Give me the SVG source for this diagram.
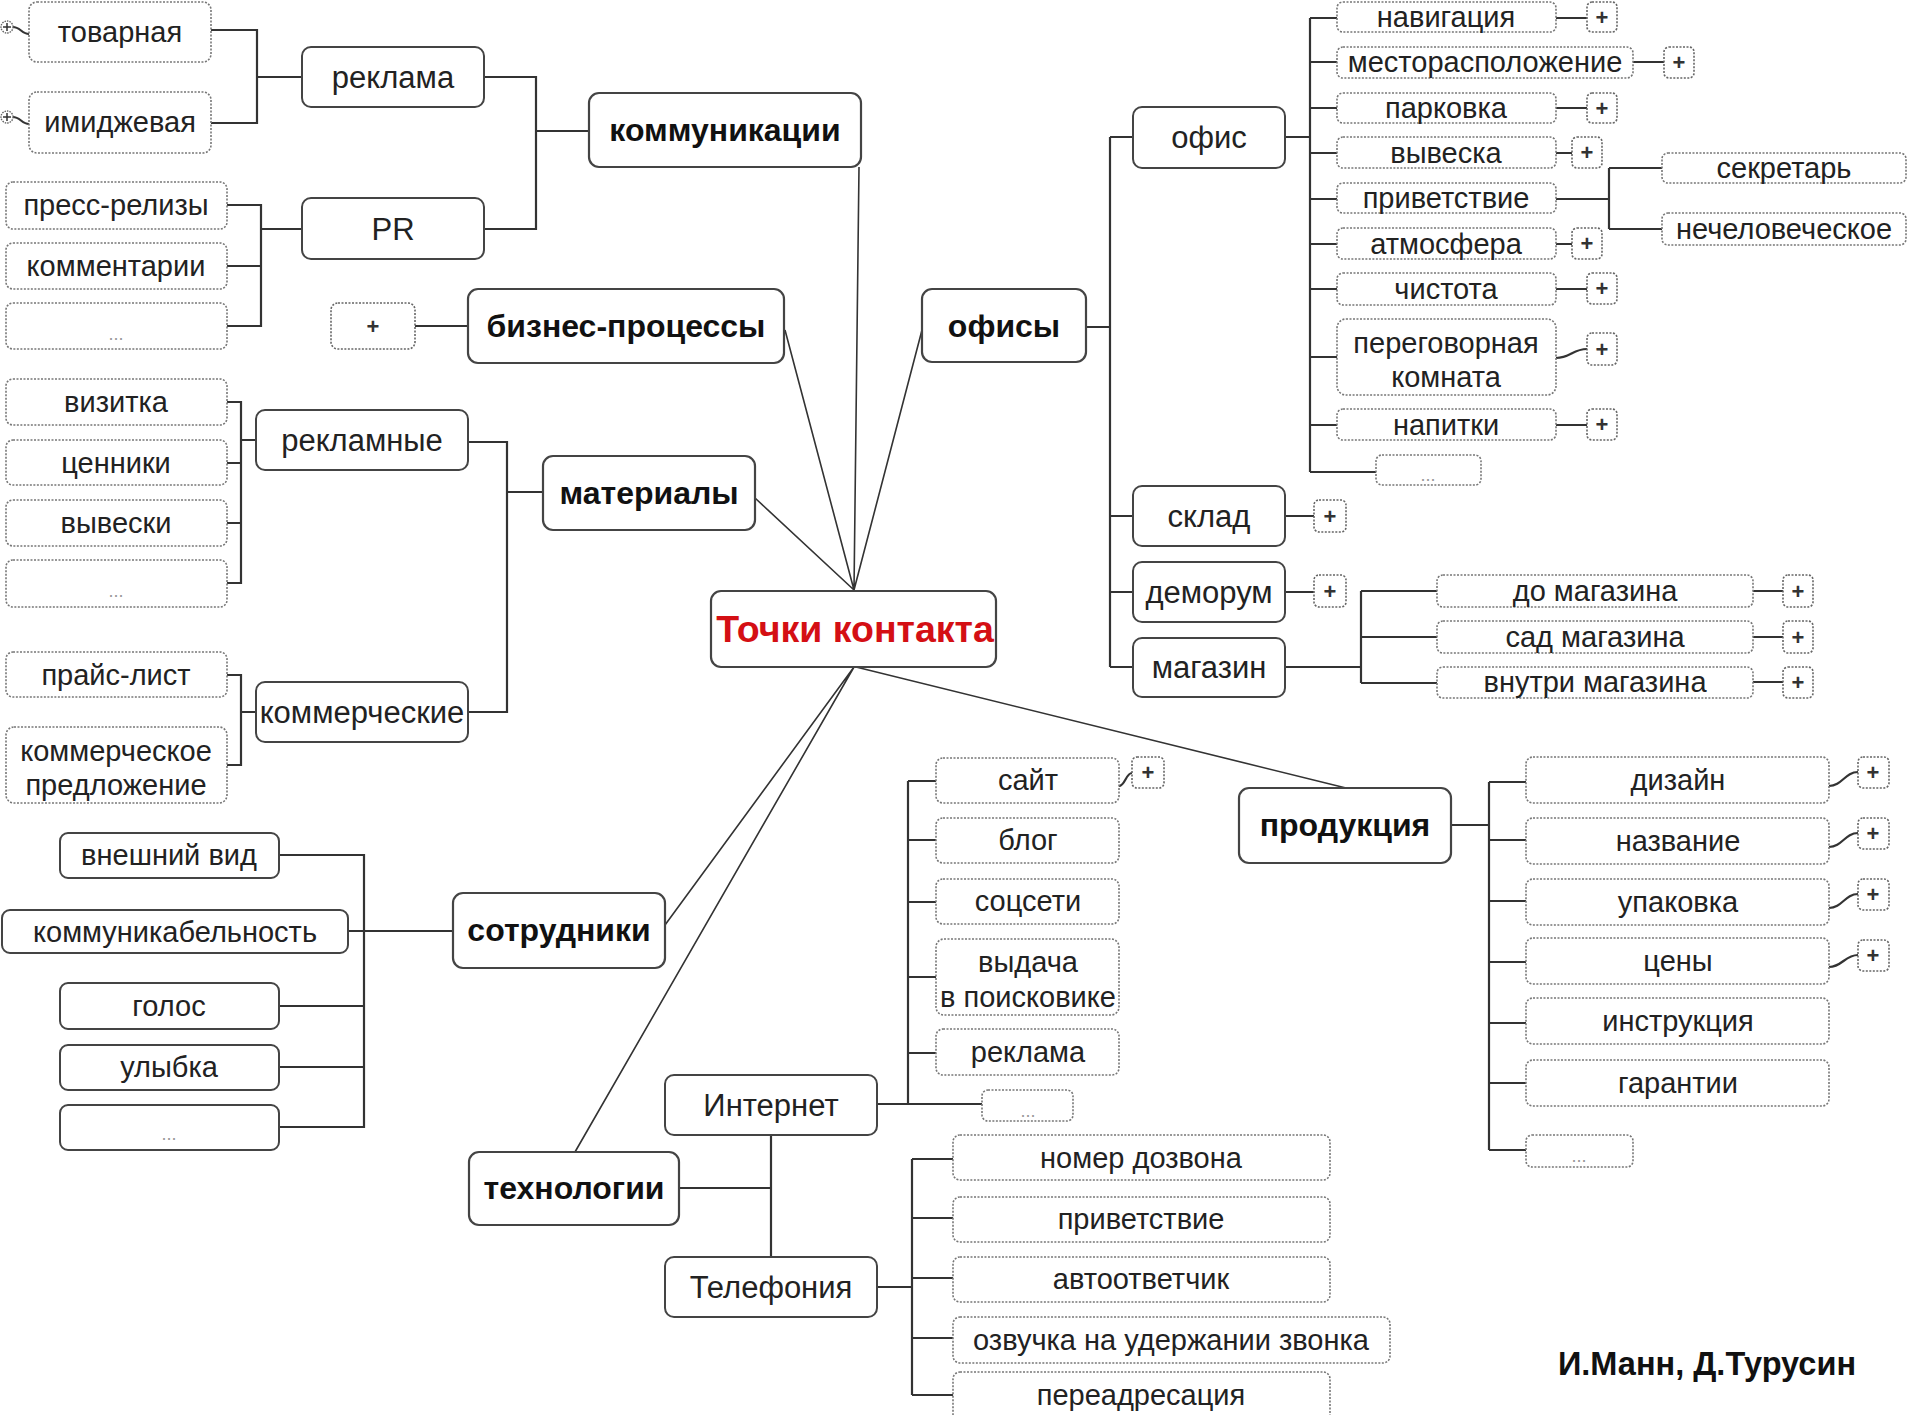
<svg xmlns="http://www.w3.org/2000/svg" width="1907" height="1415" viewBox="0 0 1907 1415">
<style>
text{font-family:"Liberation Sans",Arial,sans-serif;fill:#222;text-anchor:middle}
.m rect{fill:#fff;stroke:#444;stroke-width:2.2}
.m text{font-size:32px;font-weight:bold;fill:#111}
.s rect{fill:#fff;stroke:#444;stroke-width:2}
.s text{font-size:31px}
.k text{font-size:29px}
.l rect{fill:#fff;stroke:#777;stroke-width:1.6;stroke-dasharray:2 1.5}
.l text{font-size:29px}
.p rect{fill:#fff;stroke:#666;stroke-width:1.6;stroke-dasharray:2 1.5}
.p text{font-size:22px;font-weight:bold;fill:#333}
text.d{font-size:18px;fill:#999}
.c rect{fill:#fff;stroke:#444;stroke-width:2.2}
.c text{font-size:37.5px;font-weight:bold;fill:#d40f14}
#connectors path{fill:none;stroke:#333;stroke-width:2.2}
#connectors .r{stroke-width:1.6}
</style>
<rect width="1907" height="1415" fill="#fff"/>
<g id="connectors">
<path class="r" d="M859 167L854 590M785 330L854 590M922 330L854 590M755 498L854 590M665 925L854 667M575 1152L854 667M856 667L1346 788"/>
<path d="M13 27C20 27 22 34 29 34M13 117C20 117 22 124 29 124"/>
<path d="M211 30H257V123H211M257 77H302"/>
<path d="M484 77H536V229H484M536 131H589"/>
<path d="M227 205H261V326H227M227 266H261M261 229H302"/>
<path d="M415 326H468"/>
<path d="M227 402H241V583H227M227 463H241M227 523H241M241 440H256"/>
<path d="M468 442H507V712H468M507 492H543"/>
<path d="M227 675H241V765H227M241 712H256"/>
<path d="M279 855H364V1127H279M348 931H453M279 1006H364M279 1067H364"/>
<path d="M679 1188H771M771 1135V1257"/>
<path d="M877 1104H982M908 781V1104M908 781H936M908 840H936M908 902H936M908 977H936M908 1053H936"/>
<path d="M1119 786C1125 786 1126 773 1132 773"/>
<path d="M877 1287H912M912 1159V1395M912 1159H953M912 1218H953M912 1278H953M912 1338H953M912 1395H953"/>
<path d="M1086 327H1110M1110 137V667M1110 137H1133M1110 516H1133M1110 592H1133M1110 667H1133"/>
<path d="M1285 137H1310M1310 18V472M1310 18H1337M1310 62H1337M1310 108H1337M1310 153H1337M1310 199H1337M1310 244H1337M1310 289H1337M1310 357H1337M1310 425H1337M1310 472H1376"/>
<path d="M1556 18H1587M1633 62H1664M1556 108H1587M1556 153H1572M1556 244H1572M1556 289H1587M1556 358C1570 358 1573 349 1587 349M1556 425H1587"/>
<path d="M1556 199H1609M1609 168V229M1609 168H1662M1609 229H1662"/>
<path d="M1285 516H1314M1285 592H1314"/>
<path d="M1285 667H1361M1361 591V683M1361 591H1437M1361 637H1437M1361 683H1437"/>
<path d="M1753 591H1783M1753 637H1783M1753 682H1783"/>
<path d="M1451 825H1489M1489 782V1150M1489 782H1526M1489 840H1526M1489 901H1526M1489 962H1526M1489 1023H1526M1489 1083H1526M1489 1150H1526"/>
<path d="M1829 786C1842 786 1845 772 1858 772M1829 847C1842 847 1845 833 1858 833M1829 908C1842 908 1845 894 1858 894M1829 967C1842 967 1845 955 1858 955"/>
</g>

<g id="exp-1" class="p"><circle cx="7" cy="27" r="6" fill="#fff" stroke="#666" stroke-width="1.4" stroke-dasharray="1.5 1"/><path d="M3 27H11M7 23V31" stroke="#333" stroke-width="1.5"/></g>
<g id="exp-2" class="p"><circle cx="7" cy="117" r="6" fill="#fff" stroke="#666" stroke-width="1.4" stroke-dasharray="1.5 1"/><path d="M3 117H11M7 113V121" stroke="#333" stroke-width="1.5"/></g>

<g id="center" class="c"><rect x="711" y="591" width="285" height="76" rx="10"/><text x="855" y="642">Точки контакта</text></g>

<g id="kommunikacii" class="m"><rect x="589" y="93" width="272" height="74" rx="10"/><text x="725" y="141">коммуникации</text></g>
<g id="biznes" class="m"><rect x="468" y="289" width="316" height="74" rx="10"/><text x="626" y="337">бизнес-процессы</text></g>
<g id="ofisy" class="m"><rect x="922" y="289" width="164" height="73" rx="10"/><text x="1004" y="337">офисы</text></g>
<g id="materialy" class="m"><rect x="543" y="456" width="212" height="74" rx="10"/><text x="649" y="504">материалы</text></g>
<g id="sotrudniki" class="m"><rect x="453" y="893" width="212" height="75" rx="10"/><text x="559" y="941">сотрудники</text></g>
<g id="tehnologii" class="m"><rect x="469" y="1152" width="210" height="73" rx="10"/><text x="574" y="1199">технологии</text></g>
<g id="produkcia" class="m"><rect x="1239" y="788" width="212" height="75" rx="10"/><text x="1345" y="836">продукция</text></g>

<g id="reklama" class="s"><rect x="302" y="47" width="182" height="60" rx="9"/><text x="393" y="88">реклама</text></g>
<g id="pr" class="s"><rect x="302" y="198" width="182" height="61" rx="9"/><text x="393" y="240">PR</text></g>
<g id="reklamnye" class="s"><rect x="256" y="410" width="212" height="60" rx="9"/><text x="362" y="451">рекламные</text></g>
<g id="kommercheskie" class="s"><rect x="256" y="682" width="212" height="60" rx="9"/><text x="362" y="723">коммерческие</text></g>
<g id="ofis" class="s"><rect x="1133" y="107" width="152" height="61" rx="9"/><text x="1209" y="148">офис</text></g>
<g id="sklad" class="s"><rect x="1133" y="486" width="152" height="60" rx="9"/><text x="1209" y="527">склад</text></g>
<g id="demorum" class="s"><rect x="1133" y="562" width="152" height="60" rx="9"/><text x="1209" y="603">деморум</text></g>
<g id="magazin" class="s"><rect x="1133" y="638" width="152" height="59" rx="9"/><text x="1209" y="678">магазин</text></g>
<g id="internet" class="s"><rect x="665" y="1075" width="212" height="60" rx="9"/><text x="771" y="1116">Интернет</text></g>
<g id="telefonia" class="s"><rect x="665" y="1257" width="212" height="60" rx="9"/><text x="771" y="1298">Телефония</text></g>

<g id="vneshniy" class="s k"><rect x="60" y="833" width="219" height="45" rx="8"/><text x="169" y="865">внешний вид</text></g>
<g id="kommunikabelnost" class="s k"><rect x="2" y="910" width="346" height="43" rx="8"/><text x="175" y="942">коммуникабельность</text></g>
<g id="golos" class="s k"><rect x="60" y="983" width="219" height="46" rx="8"/><text x="169" y="1016">голос</text></g>
<g id="ulybka" class="s k"><rect x="60" y="1045" width="219" height="45" rx="8"/><text x="169" y="1077">улыбка</text></g>
<g id="sotr-etc" class="s k"><rect x="60" y="1105" width="219" height="45" rx="8"/><text class="d" x="169" y="1140">...</text></g>

<g id="tovarnaya" class="l"><rect x="29" y="2" width="182" height="60" rx="8"/><text x="120" y="42">товарная</text></g>
<g id="imidzhevaya" class="l"><rect x="29" y="92" width="182" height="61" rx="8"/><text x="120" y="132">имиджевая</text></g>
<g id="press" class="l"><rect x="6" y="182" width="221" height="47" rx="7"/><text x="116" y="215">пресс-релизы</text></g>
<g id="kommentarii" class="l"><rect x="6" y="243" width="221" height="46" rx="7"/><text x="116" y="276">комментарии</text></g>
<g id="pr-etc" class="l"><rect x="6" y="303" width="221" height="46" rx="7"/><text class="d" x="116" y="340">...</text></g>
<g id="biznes-plus" class="p"><rect x="331" y="303" width="84" height="46" rx="7"/><text x="373" y="334">+</text></g>
<g id="vizitka" class="l"><rect x="6" y="379" width="221" height="46" rx="7"/><text x="116" y="412">визитка</text></g>
<g id="cenniki" class="l"><rect x="6" y="440" width="221" height="45" rx="7"/><text x="116" y="473">ценники</text></g>
<g id="vyveski" class="l"><rect x="6" y="500" width="221" height="46" rx="7"/><text x="116" y="533">вывески</text></g>
<g id="rekl-etc" class="l"><rect x="6" y="560" width="221" height="47" rx="7"/><text class="d" x="116" y="597">...</text></g>
<g id="prays" class="l"><rect x="6" y="652" width="221" height="45" rx="7"/><text x="116" y="685">прайс-лист</text></g>
<g id="kompredl" class="l"><rect x="6" y="727" width="221" height="76" rx="8"/><text x="116" y="761">коммерческое</text><text x="116" y="795">предложение</text></g>

<g id="navigacia" class="l"><rect x="1337" y="2" width="219" height="30" rx="6"/><text x="1446" y="27">навигация</text></g>
<g id="mesto" class="l"><rect x="1337" y="47" width="296" height="31" rx="6"/><text x="1485" y="72">месторасположение</text></g>
<g id="parkovka" class="l"><rect x="1337" y="93" width="219" height="30" rx="6"/><text x="1446" y="118">парковка</text></g>
<g id="vyveska" class="l"><rect x="1337" y="137" width="219" height="31" rx="6"/><text x="1446" y="163">вывеска</text></g>
<g id="privetstvie" class="l"><rect x="1337" y="183" width="219" height="30" rx="6"/><text x="1446" y="208">приветствие</text></g>
<g id="atmosfera" class="l"><rect x="1337" y="228" width="219" height="31" rx="6"/><text x="1446" y="254">атмосфера</text></g>
<g id="chistota" class="l"><rect x="1337" y="273" width="219" height="32" rx="6"/><text x="1446" y="299">чистота</text></g>
<g id="peregovornaya" class="l"><rect x="1337" y="319" width="219" height="76" rx="9"/><text x="1446" y="353">переговорная</text><text x="1446" y="387">комната</text></g>
<g id="napitki" class="l"><rect x="1337" y="409" width="219" height="31" rx="6"/><text x="1446" y="435">напитки</text></g>
<g id="ofis-etc" class="l"><rect x="1376" y="455" width="105" height="30" rx="6"/><text class="d" x="1428" y="481">...</text></g>
<g id="sekretar" class="l"><rect x="1662" y="153" width="244" height="30" rx="6"/><text x="1784" y="178">секретарь</text></g>
<g id="nechelovecheskoe" class="l"><rect x="1662" y="213" width="244" height="32" rx="6"/><text x="1784" y="239">нечеловеческое</text></g>

<g id="do-magazina" class="l"><rect x="1437" y="575" width="316" height="32" rx="6"/><text x="1595" y="601">до магазина</text></g>
<g id="sad-magazina" class="l"><rect x="1437" y="621" width="316" height="32" rx="6"/><text x="1595" y="647">сад магазина</text></g>
<g id="vnutri-magazina" class="l"><rect x="1437" y="667" width="316" height="31" rx="6"/><text x="1595" y="692">внутри магазина</text></g>

<g id="dizayn" class="l"><rect x="1526" y="757" width="303" height="46" rx="7"/><text x="1678" y="790">дизайн</text></g>
<g id="nazvanie" class="l"><rect x="1526" y="818" width="303" height="46" rx="7"/><text x="1678" y="851">название</text></g>
<g id="upakovka" class="l"><rect x="1526" y="879" width="303" height="46" rx="7"/><text x="1678" y="912">упаковка</text></g>
<g id="ceny" class="l"><rect x="1526" y="938" width="303" height="46" rx="7"/><text x="1678" y="971">цены</text></g>
<g id="instrukcia" class="l"><rect x="1526" y="998" width="303" height="46" rx="7"/><text x="1678" y="1031">инструкция</text></g>
<g id="garantii" class="l"><rect x="1526" y="1060" width="303" height="46" rx="7"/><text x="1678" y="1093">гарантии</text></g>
<g id="prod-etc" class="l"><rect x="1526" y="1135" width="107" height="32" rx="6"/><text class="d" x="1579" y="1162">...</text></g>

<g id="sayt" class="l"><rect x="936" y="758" width="183" height="45" rx="7"/><text x="1028" y="790">сайт</text></g>
<g id="blog" class="l"><rect x="936" y="818" width="183" height="45" rx="7"/><text x="1028" y="850">блог</text></g>
<g id="socseti" class="l"><rect x="936" y="879" width="183" height="45" rx="7"/><text x="1028" y="911">соцсети</text></g>
<g id="vydacha" class="l"><rect x="936" y="939" width="183" height="76" rx="8"/><text x="1028" y="972">выдача</text><text x="1028" y="1007">в поисковике</text></g>
<g id="reklama-int" class="l"><rect x="936" y="1029" width="183" height="46" rx="7"/><text x="1028" y="1062">реклама</text></g>
<g id="int-etc" class="l"><rect x="982" y="1090" width="91" height="31" rx="6"/><text class="d" x="1028" y="1117">...</text></g>

<g id="nomer" class="l"><rect x="953" y="1135" width="377" height="45" rx="7"/><text x="1141" y="1168">номер дозвона</text></g>
<g id="privetstvie-tel" class="l"><rect x="953" y="1197" width="377" height="45" rx="7"/><text x="1141" y="1229">приветствие</text></g>
<g id="avtootvetchik" class="l"><rect x="953" y="1257" width="377" height="45" rx="7"/><text x="1141" y="1289">автоответчик</text></g>
<g id="ozvuchka" class="l"><rect x="953" y="1317" width="437" height="46" rx="7"/><text x="1171" y="1350">озвучка на удержании звонка</text></g>
<g id="pereadresacia" class="l"><rect x="953" y="1372" width="377" height="50" rx="7"/><text x="1141" y="1405">переадресация</text></g>

<g id="plus-boxes" class="p">
<rect x="1587" y="2" width="30" height="30" rx="5"/><text x="1602" y="25">+</text>
<rect x="1664" y="47" width="30" height="31" rx="5"/><text x="1679" y="70">+</text>
<rect x="1587" y="93" width="30" height="30" rx="5"/><text x="1602" y="116">+</text>
<rect x="1572" y="137" width="30" height="31" rx="5"/><text x="1587" y="160">+</text>
<rect x="1572" y="228" width="30" height="31" rx="5"/><text x="1587" y="251">+</text>
<rect x="1587" y="273" width="30" height="31" rx="5"/><text x="1602" y="296">+</text>
<rect x="1587" y="333" width="30" height="32" rx="5"/><text x="1602" y="357">+</text>
<rect x="1587" y="409" width="30" height="31" rx="5"/><text x="1602" y="432">+</text>
<rect x="1314" y="500" width="32" height="32" rx="5"/><text x="1330" y="524">+</text>
<rect x="1314" y="575" width="32" height="32" rx="5"/><text x="1330" y="599">+</text>
<rect x="1783" y="575" width="30" height="32" rx="5"/><text x="1798" y="599">+</text>
<rect x="1783" y="621" width="30" height="32" rx="5"/><text x="1798" y="645">+</text>
<rect x="1783" y="667" width="30" height="31" rx="5"/><text x="1798" y="690">+</text>
<rect x="1858" y="757" width="31" height="31" rx="5"/><text x="1873" y="780">+</text>
<rect x="1858" y="818" width="31" height="31" rx="5"/><text x="1873" y="841">+</text>
<rect x="1858" y="879" width="31" height="31" rx="5"/><text x="1873" y="902">+</text>
<rect x="1858" y="940" width="31" height="31" rx="5"/><text x="1873" y="963">+</text>
<rect x="1132" y="757" width="32" height="31" rx="5"/><text x="1148" y="780">+</text>
</g>

<text x="1707" y="1375" style="font-size:32.5px;font-weight:bold;fill:#111">И.Манн, Д.Турусин</text>
</svg>
